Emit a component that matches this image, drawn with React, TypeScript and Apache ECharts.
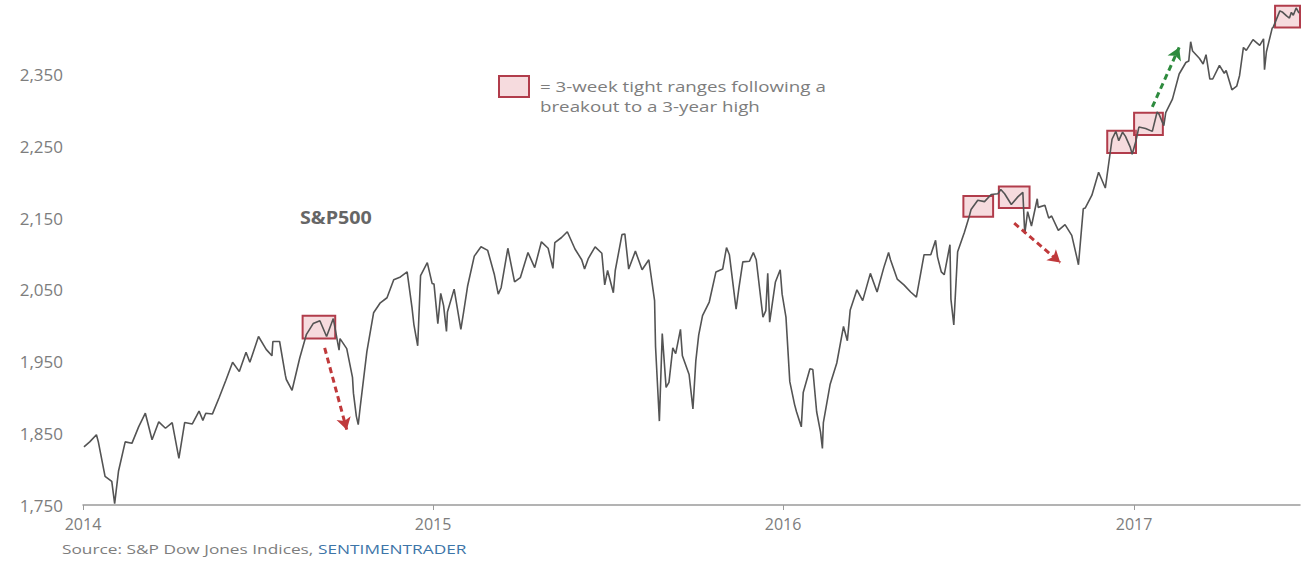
import React, { useEffect, useRef } from "react";
import * as echarts from "echarts";

// S&P 500 closes, 2014 – mid 2017
const dates2014 = ["2014-01-02","2014-01-08","2014-01-15","2014-01-17","2014-01-24","2014-01-31","2014-02-03","2014-02-07","2014-02-14","2014-02-21","2014-02-28","2014-03-07","2014-03-14","2014-03-21","2014-03-28","2014-04-04","2014-04-11","2014-04-17","2014-04-25","2014-05-02","2014-05-06","2014-05-09","2014-05-16","2014-05-23","2014-05-30","2014-06-06","2014-06-13","2014-06-20","2014-06-24","2014-06-27","2014-07-03","2014-07-11","2014-07-17","2014-07-18","2014-07-25","2014-07-31","2014-08-01","2014-08-07","2014-08-15","2014-08-22","2014-08-29","2014-09-05","2014-09-12","2014-09-19","2014-09-25","2014-09-26","2014-10-03","2014-10-09","2014-10-10","2014-10-13","2014-10-15","2014-10-17","2014-10-24","2014-10-31","2014-11-07","2014-11-14","2014-11-21","2014-11-28","2014-12-05","2014-12-10","2014-12-12","2014-12-16","2014-12-19","2014-12-26","2014-12-31"];
const values2014 = [1831,1838,1848,1838,1790,1783,1752,1797,1838,1836,1859,1878,1841,1866,1857,1865,1815,1865,1863,1881,1868,1878,1877,1900,1924,1949,1936,1963,1949,1961,1985,1967,1958,1978,1978,1931,1925,1910,1955,1988,2003,2007,1985,2010,1966,1982,1968,1928,1906,1874,1862,1886,1964,2018,2032,2039,2064,2068,2075,2026,2002,1972,2070,2088,2059];

const dates2015 = ["2015-01-02","2015-01-06","2015-01-09","2015-01-12","2015-01-15","2015-01-16","2015-01-23","2015-01-30","2015-02-02","2015-02-06","2015-02-13","2015-02-20","2015-02-27","2015-03-06","2015-03-10","2015-03-13","2015-03-20","2015-03-27","2015-04-02","2015-04-10","2015-04-17","2015-04-24","2015-05-01","2015-05-06","2015-05-08","2015-05-15","2015-05-21","2015-05-29","2015-06-05","2015-06-08","2015-06-12","2015-06-19","2015-06-26","2015-06-29","2015-07-02","2015-07-08","2015-07-10","2015-07-17","2015-07-20","2015-07-24","2015-07-31","2015-08-07","2015-08-14","2015-08-20","2015-08-21","2015-08-24","2015-08-25","2015-08-28","2015-09-01","2015-09-04","2015-09-08","2015-09-11","2015-09-16","2015-09-18","2015-09-25","2015-09-29","2015-10-02","2015-10-05","2015-10-09","2015-10-16","2015-10-23","2015-10-30","2015-11-03","2015-11-06","2015-11-13","2015-11-16","2015-11-20","2015-11-27","2015-12-01","2015-12-04","2015-12-11","2015-12-14","2015-12-16","2015-12-18","2015-12-24","2015-12-29","2015-12-31"];
const values2015 = [2058,2003,2045,2028,1992,2019,2051,1995,2020,2055,2097,2110,2105,2071,2044,2053,2108,2061,2067,2102,2081,2117,2108,2080,2116,2123,2131,2107,2092,2079,2094,2110,2101,2057,2077,2046,2077,2127,2128,2079,2104,2078,2092,2035,1971,1893,1867,1989,1914,1921,1969,1961,1995,1958,1932,1884,1951,1987,2014,2033,2075,2079,2109,2099,2023,2053,2089,2090,2102,2092,2012,2021,2073,2005,2061,2078,2044];

const dates2016 = ["2016-01-04","2016-01-08","2016-01-13","2016-01-15","2016-01-20","2016-01-22","2016-01-29","2016-02-01","2016-02-05","2016-02-09","2016-02-11","2016-02-12","2016-02-19","2016-02-26","2016-03-04","2016-03-08","2016-03-11","2016-03-18","2016-03-24","2016-04-01","2016-04-08","2016-04-15","2016-04-20","2016-04-22","2016-04-29","2016-05-06","2016-05-13","2016-05-19","2016-05-27","2016-06-03","2016-06-08","2016-06-10","2016-06-14","2016-06-17","2016-06-23","2016-06-24","2016-06-27","2016-07-01","2016-07-08","2016-07-13","2016-07-15","2016-07-22","2016-07-29","2016-08-05","2016-08-12","2016-08-15","2016-08-19","2016-08-26","2016-09-02","2016-09-07","2016-09-09","2016-09-12","2016-09-16","2016-09-22","2016-09-23","2016-09-30","2016-10-04","2016-10-07","2016-10-14","2016-10-21","2016-10-28","2016-11-02","2016-11-04","2016-11-09","2016-11-11","2016-11-18","2016-11-25","2016-12-02","2016-12-09","2016-12-13","2016-12-16","2016-12-20","2016-12-23","2016-12-28","2016-12-30"];
const values2016 = [2012,1922,1890,1880,1859,1907,1940,1939,1880,1852,1829,1865,1918,1948,1999,1979,2022,2050,2035,2073,2047,2081,2102,2092,2065,2057,2047,2040,2099,2099,2119,2096,2075,2071,2113,2037,2001,2103,2130,2152,2162,2175,2173,2183,2184,2190,2184,2169,2180,2186,2128,2159,2139,2177,2165,2168,2150,2153,2133,2141,2126,2097,2085,2163,2164,2182,2214,2192,2260,2271,2258,2270,2264,2249,2239];

const dates2017 = ["2017-01-03","2017-01-06","2017-01-13","2017-01-20","2017-01-25","2017-01-27","2017-02-01","2017-02-03","2017-02-10","2017-02-17","2017-02-24","2017-02-27","2017-03-01","2017-03-03","2017-03-10","2017-03-14","2017-03-17","2017-03-21","2017-03-24","2017-03-31","2017-04-05","2017-04-07","2017-04-13","2017-04-18","2017-04-21","2017-04-25","2017-04-28","2017-05-05","2017-05-12","2017-05-16","2017-05-17","2017-05-19","2017-05-25","2017-05-26","2017-06-02","2017-06-05","2017-06-09","2017-06-12","2017-06-14","2017-06-16","2017-06-19","2017-06-22"];
const values2017 = [2258,2277,2275,2271,2298,2295,2279,2297,2316,2351,2367,2369,2396,2383,2373,2365,2378,2344,2344,2363,2352,2356,2329,2334,2349,2388,2384,2399,2391,2400,2357,2382,2415,2416,2439,2437,2432,2429,2437,2433,2443,2436];

// tight-range boxes: [start, end, low, high]
const boxes: [string, string, number, number][] = [
  ["2014-08-18", "2014-09-21", 1982, 2014],
  ["2016-07-07", "2016-08-07", 2152, 2181],
  ["2016-08-13", "2016-09-14", 2164, 2194],
  ["2016-12-04", "2017-01-03", 2241, 2272],
  ["2017-01-01", "2017-01-31", 2266, 2297],
  ["2017-05-28", "2017-06-23", 2416, 2446],
];

// arrows: [fromDate, fromValue, toDate, toValue, colour]
const arrows: [string, number, string, number, string][] = [
  ["2014-09-10", 1969, "2014-10-03", 1855, "#c0393b"],
  ["2016-08-29", 2143, "2016-10-16", 2088, "#c0393b"],
  ["2017-01-20", 2305, "2017-02-17", 2388, "#2e8b3e"],
];

const yTicks = [1750, 2450, 100]; // min, max, interval
const xRange = ["2014-01-01", "2017-06-23"];

const FONT = '"Open Sans", "DejaVu Sans", sans-serif';

export default function App() {
  const ref = useRef<HTMLDivElement>(null);
  useEffect(() => {
    document.body.style.margin = "0";
    const chart = echarts.init(ref.current!, undefined, { renderer: "svg" });
    const allDates = [...dates2014, ...dates2015, ...dates2016, ...dates2017];
    const allValues = [...values2014, ...values2015, ...values2016, ...values2017];
    const data = allDates.map((d, i) => [d, allValues[i]]);
    const boxFill = "rgba(232,160,168,0.38)";
    const boxBorder = "#b13c4b";

    chart.setOption({
      animation: false,
      backgroundColor: "#fff",
      grid: { left: 83, right: 7, top: 3, bottom: 67 },
      xAxis: {
        type: "time",
        min: xRange[0],
        max: xRange[1],
        minInterval: 365 * 86400000,
        splitNumber: 3,
        axisLine: { lineStyle: { color: "#9a9a9a", width: 1.5 } },
        axisTick: { show: true, length: 5, lineStyle: { color: "#9a9a9a" } },
        splitLine: { show: false },
        axisLabel: {
          formatter: "{yyyy}",
          color: "#7d7d7d",
          fontSize: 16,
          fontFamily: FONT,
          margin: 11,
        },
      },
      yAxis: {
        type: "value",
        min: yTicks[0],
        max: yTicks[1],
        interval: yTicks[2],
        axisLine: { show: false },
        axisTick: { show: false },
        splitLine: { show: false },
        axisLabel: {
          formatter: (v: number) => (v > 2400 ? "" : v.toLocaleString("en-US")),
          color: "#7d7d7d",
          fontSize: 17,
          fontFamily: FONT,
          margin: 20,
        },
      },
      series: [
        {
          type: "line",
          data,
          symbol: "none",
          lineStyle: { color: "#545454", width: 1.6 },
          z: 3,
          markArea: {
            silent: true,
            itemStyle: { color: boxFill, borderColor: boxBorder, borderWidth: 2 },
            data: boxes.map((b) => [
              { coord: [b[0], b[3]] },
              { coord: [b[1], b[2]] },
            ]),
          },
          markLine: {
            silent: true,
            symbol: ["none", "arrow"],
            symbolSize: [11, 12],
            label: { show: false },
            data: arrows.map((a) => [
              { coord: [a[0], a[1]], lineStyle: { color: a[4], width: 3, type: [6, 4] } },
              { coord: [a[2], a[3]] },
            ]),
          },
        },
      ],
      graphic: [
        {
          type: "rect",
          shape: { x: 499, y: 76, width: 30, height: 21 },
          style: { fill: boxFill, stroke: boxBorder, lineWidth: 2 },
        },
        {
          type: "text",
          x: 540,
          y: 86,
          scaleX: 1.25,
          style: {
            text: "= 3-week tight ranges following a",
            fill: "#7d7d7d",
            font: `15px ${FONT}`,
            verticalAlign: "middle",
          },
        },
        {
          type: "text",
          x: 540,
          y: 106,
          scaleX: 1.25,
          style: {
            text: "breakout to a 3-year high",
            fill: "#7d7d7d",
            font: `15px ${FONT}`,
            verticalAlign: "middle",
          },
        },
        {
          type: "text",
          x: 300,
          y: 217,
          scaleX: 1.16,
          style: {
            text: "S&P500",
            fill: "#666666",
            font: `bold 17px ${FONT}`,
            verticalAlign: "middle",
          },
        },
        {
          type: "text",
          x: 62,
          y: 549,
          scaleX: 1.33,
          style: {
            text: "{a|Source: S&P Dow Jones Indices, }{b|SENTIMENTRADER}",
            verticalAlign: "middle",
            rich: {
              a: { fill: "#7d7d7d", fontSize: 13, fontFamily: FONT },
              b: { fill: "#3d75a8", fontSize: 13, fontFamily: FONT },
            },
          },
        },
      ],
    });
    return () => chart.dispose();
  }, []);
  return <div ref={ref} style={{ width: 1307, height: 572 }} />;
}
